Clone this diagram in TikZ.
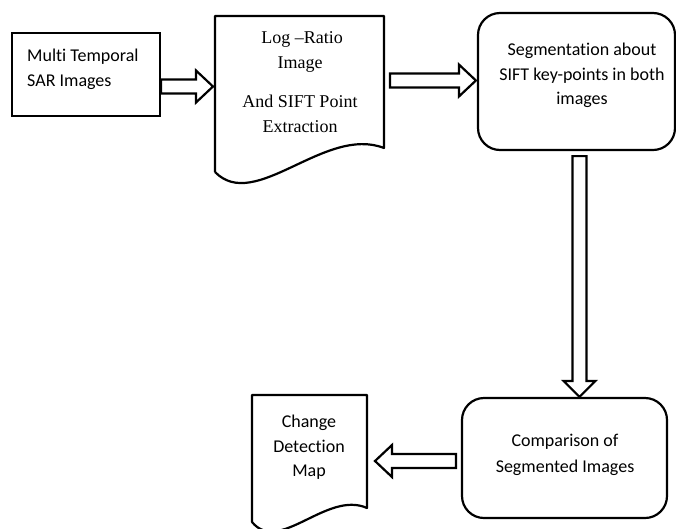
\documentclass[tikz,border=0pt]{standalone}
\usepackage{fontspec}
\setmainfont{Carlito}[Ligatures=NoCommon]
\newfontfamily\timesf{Liberation Serif}
\usetikzlibrary{calc}
\newcommand\blockR[2]{\draw[barrow] let \p1=(#1), \p2=(#2) in (\x1,\y1+7pt) -- (\x2-17pt,\y1+7pt) -- (\x2-17pt,\y1+16pt) -- (\x2,\y1) -- (\x2-17pt,\y1-16pt) -- (\x2-17pt,\y1-7pt) -- (\x1,\y1-7pt) -- cycle;}
\newcommand\blockL[2]{\draw[barrow] let \p1=(#1), \p2=(#2) in (\x1,\y1+7pt) -- (\x2+17pt,\y1+7pt) -- (\x2+17pt,\y1+16pt) -- (\x2,\y1) -- (\x2+17pt,\y1-16pt) -- (\x2+17pt,\y1-7pt) -- (\x1,\y1-7pt) -- cycle;}
\newcommand\blockD[2]{\draw[barrow] let \p1=(#1), \p2=(#2) in (\x1+7pt,\y1) -- (\x1+7pt,\y2+16pt) -- (\x1+16pt,\y2+16pt) -- (\x1,\y2) -- (\x1-16pt,\y2+16pt) -- (\x1-7pt,\y2+16pt) -- (\x1-7pt,\y1) -- cycle;}
\begin{document}
\begin{tikzpicture}[x=1pt,y=-1pt,
  box/.style={draw, line width=2.2pt, inner sep=0pt},
  rbox/.style={box, rounded corners=22pt},
  frame/.style={inner sep=0pt, outer sep=0pt},
  docline/.style={draw, line width=2.2pt, line join=round},
  barrow/.style={draw, line width=2.2pt, fill=white, line join=miter},
  ctext/.style={font=\fontsize{18}{25}\selectfont, anchor=base, inner sep=0pt},
  ltext/.style={font=\fontsize{18}{25}\selectfont, anchor=base west, inner sep=0pt},
  ttext/.style={font=\timesf\fontsize{18}{25}\selectfont, anchor=base, inner sep=0pt}]
\useasboundingbox (0,0) rectangle (676,528);
% box 1
\node[box, minimum width=148pt, minimum height=83pt] (b1) at (86,74.5) {};
\node[ltext] (t1a) at (27,61) {Multi Temporal};
\node[ltext] (t1b) at (27,86) {SAR Images};
% document 2
\node[frame, minimum width=169pt, minimum height=156pt] (d2) at (299.5,94) {};
\draw[docline] (d2.south west) -- (d2.north west) -- (d2.north east) -- ($(d2.south east)+(0,-24)$)
  .. controls (325,125) and (255,213) .. (d2.south west);
\node[ttext] (t2a) at (302,43) {Log –Ratio};
\node[ttext] (t2b) at (300,68) {Image};
\node[ttext] (t2c) at (300,107) {And SIFT Point};
\node[ttext] (t2d) at (300,132) {Extraction};
% box 3
\node[rbox, minimum width=197pt, minimum height=137pt] (b3) at (576.5,81.5) {};
\node[ctext] (t3a) at (582,55) {Segmentation about};
\node[ctext] (t3b) at (582,80) {SIFT key-points in both};
\node[ctext] (t3c) at (582,104) {images};
% box 4
\node[rbox, minimum width=205pt, minimum height=120pt] (b4) at (564.5,458) {};
\node[ctext] (t4a) at (565,446) {Comparison of};
\node[ctext] (t4b) at (565,472) {Segmented Images};
% document 5
\node[frame, minimum width=115pt, minimum height=127pt] (d5) at (309.5,458.5) {};
\draw[docline] (d5.south west) -- (d5.north west) -- (d5.north east) -- ($(d5.south east)+(0,-14)$)
  .. controls (327,490) and (279,555) .. (d5.south west);
\node[ctext] (t5a) at (309,427) {Change};
\node[ctext] (t5b) at (309,452) {Detection};
\node[ctext] (t5c) at (309,476) {Map};
% arrows
\coordinate (a1s) at (b1.east |- 0,86.5);
\coordinate (a1e) at ($(d2.west |- 0,86.5)+(-2,0)$);
\blockR{a1s}{a1e}
\coordinate (a2s) at ($(d2.east |- 0,80.5)+(6,0)$);
\coordinate (a2e) at ($(b3.west |- 0,80.5)+(-1,0)$);
\blockR{a2s}{a2e}
\coordinate (a3s) at ($(b3.south -| 579.5,0)+(0,5)$);
\coordinate (a3e) at (b4.north -| 579.5,0);
\blockD{a3s}{a3e}
\coordinate (a4s) at ($(b4.west |- 0,461)+(-5,0)$);
\coordinate (a4e) at ($(d5.east |- 0,461)+(8,0)$);
\blockL{a4s}{a4e}
\end{tikzpicture}
\end{document}
